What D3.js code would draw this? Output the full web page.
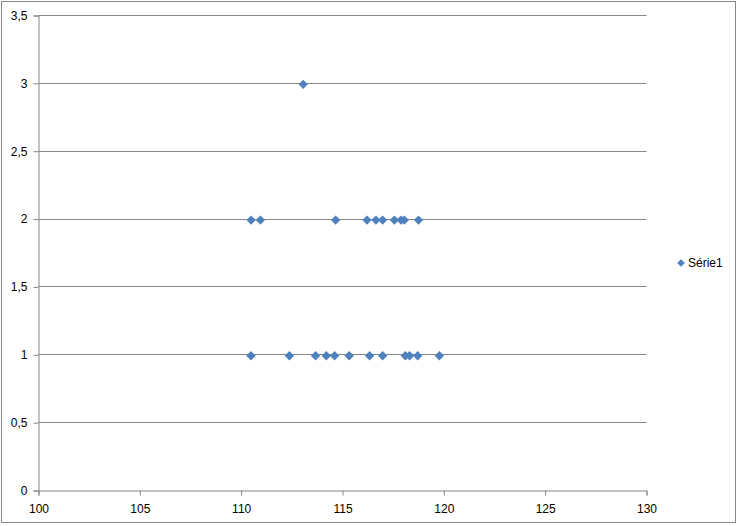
<!DOCTYPE html>
<html>
<head>
<meta charset="utf-8">
<script src="https://cdn.jsdelivr.net/npm/d3@7"></script>
<style>
  body { margin: 0; background: #fff; }
  svg text { font-family: "Liberation Sans", Arial, sans-serif; font-size: 12px; fill: #000; }
</style>
</head>
<body>
<div id="plot"></div>
<script>
// values (x, y)
var xValues = [113.06,
  110.49, 110.95, 114.66, 116.21, 116.65, 116.98, 117.56, 117.89, 118.05, 118.75,
  110.48, 112.38, 113.67, 114.20, 114.61, 115.33, 116.34, 116.98, 118.10, 118.31, 118.71, 119.78];
var yValues = [3,
  2, 2, 2, 2, 2, 2, 2, 2, 2, 2,
  1, 1, 1, 1, 1, 1, 1, 1, 1, 1, 1, 1];
var xTicks = [100, 105, 110, 115, 120, 125, 130];
var yTicks = [0, 0.5, 1, 1.5, 2, 2.5, 3, 3.5];
var seriesName = "Série1";

var width = 738, height = 526;
var plotLeft = 38.5, plotRight = 646.5, plotTop = 15.5, plotBottom = 490.5;

var svg = d3.select("#plot").append("svg")
    .attr("width", width)
    .attr("height", height);

// outer chart border
svg.append("rect")
    .attr("x", 1.5).attr("y", 1.5)
    .attr("width", 734).attr("height", 521)
    .attr("fill", "#fff")
    .attr("stroke", "#868686");

var x = d3.scaleLinear().domain([100, 130]).range([plotLeft, plotRight]);
var y = d3.scaleLinear().domain([0, 3.5]).range([plotBottom, plotTop]);

var fmt = function(d) { return String(d).replace(".", ","); };

// horizontal gridlines
svg.append("g")
  .selectAll("line")
  .data(yTicks.filter(function(d) { return d > 0; }))
  .enter().append("line")
    .attr("x1", plotLeft).attr("x2", plotRight)
    .attr("y1", function(d) { return Math.round(y(d) - 0.5) + 0.5; })
    .attr("y2", function(d) { return Math.round(y(d) - 0.5) + 0.5; })
    .attr("stroke", "#868686");

// y axis
var yAxis = svg.append("g")
    .attr("transform", "translate(" + plotLeft + ",0)")
    .call(d3.axisLeft(y).tickValues(yTicks).tickFormat(fmt).tickSize(5).tickPadding(6));

// x axis
var xAxis = svg.append("g")
    .attr("transform", "translate(0," + plotBottom + ")")
    .call(d3.axisBottom(x).tickValues(xTicks).tickSize(5).tickPadding(9));

[yAxis, xAxis].forEach(function(a) {
    a.select(".domain").attr("stroke", "#868686");
    a.selectAll(".tick line").attr("stroke", "#868686");
    a.selectAll("text").attr("font-size", null).attr("font-family", null);
});

// markers (rotated squares = diamonds)
var points = xValues.map(function(v, i) { return [v, yValues[i]]; });

svg.append("g")
  .selectAll("path")
  .data(points)
  .enter().append("path")
    .attr("d", d3.symbol().type(d3.symbolSquare).size(44))
    .attr("transform", function(d) { return "translate(" + x(d[0]) + "," + (y(d[1]) + 1) + ") rotate(45)"; })
    .attr("fill", "#4f81bd");

// legend
var legend = svg.append("g").attr("transform", "translate(681,263)");
legend.append("path")
    .attr("d", d3.symbol().type(d3.symbolSquare).size(30))
    .attr("transform", "rotate(45)")
    .attr("fill", "#4f81bd");
legend.append("text")
    .attr("x", 7)
    .attr("dy", "0.35em")
    .text(seriesName);
</script>
</body>
</html>
